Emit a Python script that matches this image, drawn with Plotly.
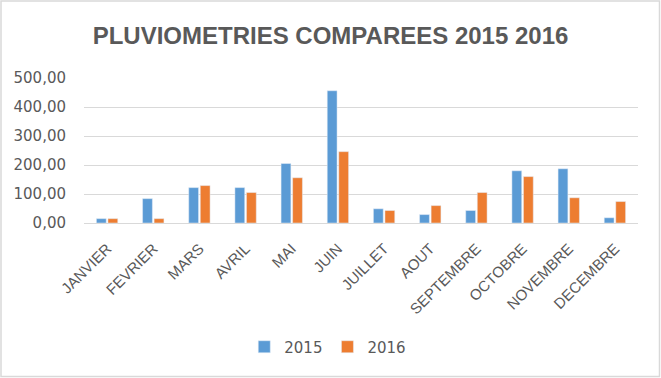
import plotly.graph_objects as go

months = ["JANVIER", "FEVRIER", "MARS", "AVRIL", "MAI", "JUIN", "JUILLET",
          "AOUT", "SEPTEMBRE", "OCTOBRE", "NOVEMBRE", "DECEMBRE"]
rain_2015 = [15, 84, 122, 122, 205, 456, 49, 29, 43, 180, 187, 18]
rain_2016 = [15, 15, 129, 105, 156, 246, 43, 60, 105, 160, 87, 74]
y_ticks = [0, 100, 200, 300, 400, 500]

font_family = "Liberation Sans, Open Sans, sans-serif"
grey = "#595959"

fig = go.Figure()
fig.add_trace(go.Bar(x=months, y=rain_2015, name="2015", marker_color="#5b9bd5"))
fig.add_trace(go.Bar(x=months, y=rain_2016, name="2016", marker_color="#ed7d31"))

fig.update_layout(
    width=661, height=378,
    margin=dict(l=84, r=23, t=78, b=155),
    paper_bgcolor="white", plot_bgcolor="white",
    separators=", ",
    barmode="group", bargap=0.5, bargroupgap=0.15,
    font=dict(family=font_family, color=grey),
    title=dict(text="<b>PLUVIOMETRIES COMPAREES 2015 2016</b>",
               x=0.5, xref="container", xanchor="center",
               y=1 - 36 / 378, yref="container", yanchor="middle",
               font=dict(size=24, color=grey, family=font_family)),
    legend=dict(orientation="h", x=0.44, xanchor="center", y=-0.855, yanchor="middle",
                font=dict(size=15, color=grey, family="DejaVu Sans, sans-serif"), itemwidth=30),
    showlegend=True,
)
fig.update_yaxes(range=[0, 500], tickvals=y_ticks, tickformat=".2f",
                 gridcolor="#d9d9d9", gridwidth=1, zeroline=False,
                 tickfont=dict(size=15, color=grey, family="DejaVu Sans, sans-serif"),
                 ticks="", showline=False, ticklabelstandoff=17)
fig.update_xaxes(tickangle=-45, tickfont=dict(size=15, color=grey),
                 showline=True, linecolor="#d9d9d9", linewidth=1, ticks="",
                 ticklabelstandoff=10)

fig.add_shape(type="rect", xref="paper", yref="paper",
              x0=(1 - 84) / 554, x1=(659.5 - 84) / 554,
              y0=(223 - 376.5) / 145, y1=(223 - 1) / 145,
              line=dict(color="#d9d9d9", width=1.5), fillcolor="rgba(0,0,0,0)", layer="below")

fig.write_html("out.html", config={"displayModeBar": False},
               post_script="document.body.style.margin='0px';")
